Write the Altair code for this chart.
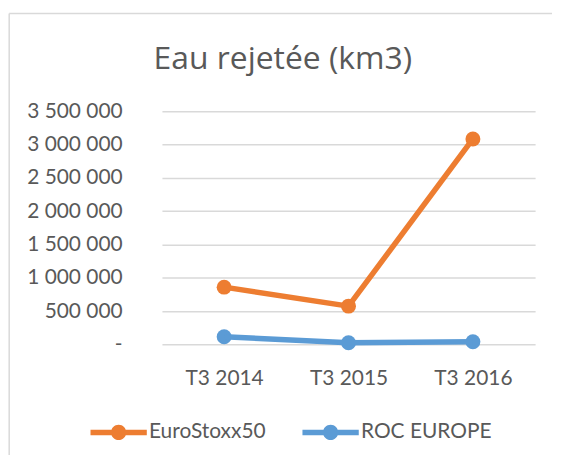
import altair as alt
import pandas as pd

categories = ["T3 2014", "T3 2015", "T3 2016"]
series_names = ["EuroStoxx50", "ROC EUROPE"]
eurostoxx = [860000, 575000, 3085000]
roc_europe = [115000, 25000, 40000]
y_ticks = [0, 500000, 1000000, 1500000, 2000000, 2500000, 3000000, 3500000]
colors = ["#ED7D31", "#5B9BD5"]
title_text = "Eau rejetée (km3)"

rows = []
for name, vals in zip(series_names, [eurostoxx, roc_europe]):
    for c, v in zip(categories, vals):
        rows.append({"cat": c, "series": name, "value": v})
df = pd.DataFrame(rows)

FONT = "Lato"
TXT = "#595959"

legend_path = ("M-1,-0.1L1,-0.1L1,0.1L-1,0.1Z "
               "M-0.27,0A0.27,0.27,0,1,1,0.27,0A0.27,0.27,0,1,1,-0.27,0Z")

x_enc = alt.X("cat:N", sort=categories, title=None,
              axis=alt.Axis(labelAngle=0, ticks=False, domain=False, grid=False,
                            labelFont=FONT, labelFontSize=21, labelColor=TXT,
                            labelPadding=23))
y_enc = alt.Y("value:Q", title=None,
              scale=alt.Scale(domain=[0, 3500000], nice=False),
              axis=alt.Axis(values=y_ticks, ticks=False, domain=False,
                            gridColor="#D9D9D9", gridWidth=1.5,
                            labelFont=FONT, labelFontSize=21, labelColor=TXT,
                            labelPadding=40,
                            labelExpr="datum.value == 0 ? '-\u00a0\u00a0\u00a0' : replace(format(datum.value, ','), /,/g, ' ')"))
color_scale = alt.Scale(domain=series_names, range=colors)

base = alt.Chart(df)

points = base.mark_circle(size=225, opacity=1).encode(
    x=x_enc, y=y_enc,
    color=alt.Color("series:N", scale=color_scale, title=None,
                    legend=alt.Legend(orient="none", direction="horizontal",
                                      legendX=-72, legendY=294,
                                      symbolType=legend_path, symbolSize=3200,
                                      symbolStrokeWidth=0, symbolOpacity=1,
                                      labelFont=FONT, labelFontSize=21,
                                      labelColor=TXT, labelOffset=2,
                                      columnPadding=36, labelLimit=300)),
)
lines = base.mark_line(strokeWidth=5.5).encode(
    x=x_enc, y=y_enc,
    color=alt.Color("series:N", scale=color_scale, legend=None),
)

one = pd.DataFrame({"a": [0]})
border_left = alt.Chart(one).mark_rule(color="#D9D9D9", strokeWidth=1.5).encode(
    x=alt.value(-153.5), y=alt.value(-98.2), y2=alt.value(400))
border_top = alt.Chart(one).mark_rule(color="#D9D9D9", strokeWidth=1.5).encode(
    x=alt.value(-153.5), x2=alt.value(392), y=alt.value(-98.2))
title = alt.Chart(one).mark_text(font="Open Sans", fontSize=32, color=TXT,
                                 align="center", baseline="alphabetic").encode(
    text=alt.value(title_text), x=alt.value(121.5), y=alt.value(-42.4))

chart = alt.layer(border_left, border_top, title, points, lines).properties(
    width=375, height=234.3,
    autosize=alt.AutoSizeParams(type="none"),
    padding={"left": 154.7, "top": 102.7, "right": 20, "bottom": 110},
).configure_view(stroke=None)

chart.save("out.html", embed_options={"renderer": "svg", "actions": False})
